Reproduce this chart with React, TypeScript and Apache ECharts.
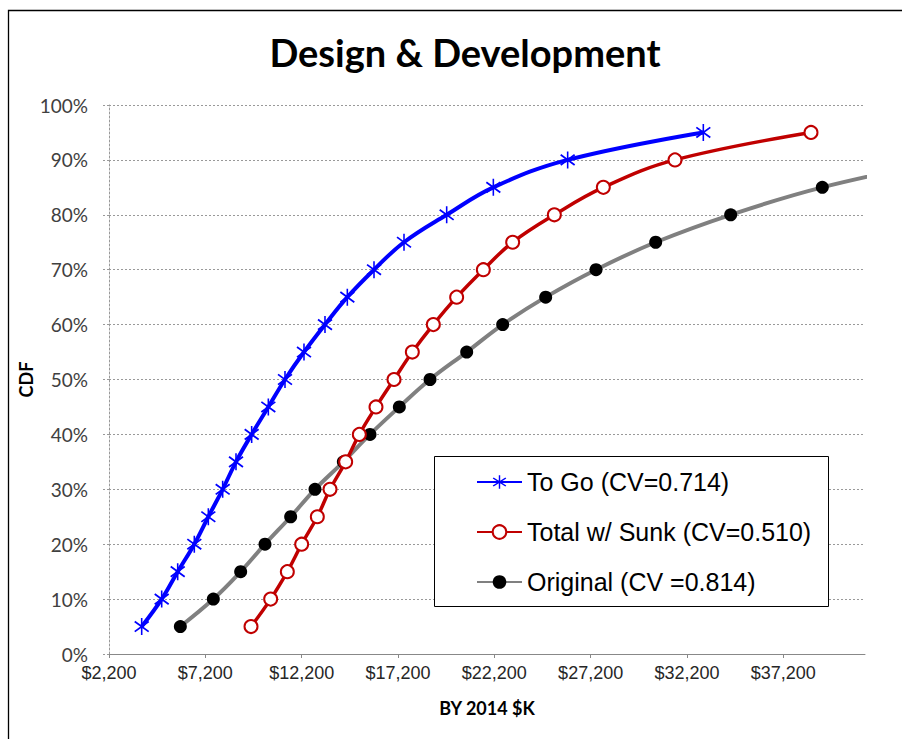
import React, { useEffect, useRef } from "react";
import * as echarts from "echarts";

const cdfLevels = [5, 10, 15, 20, 25, 30, 35, 40, 45, 50, 55, 60, 65, 70, 75, 80, 85, 90, 95];
const toGoCost = [3897, 4935, 5766, 6628, 7356, 8100, 8792, 9605, 10470, 11335, 12321, 13411, 14570, 15955, 17512, 19727, 22149, 26007, 33048];
const totalSunkCost = [9571, 10591, 11456, 12200, 13013, 13671, 14484, 15193, 16058, 16993, 17944, 19034, 20245, 21630, 23152, 25315, 27858, 31578, 38637];
const originalLevels = [5, 10, 15, 20, 25, 30, 35, 40, 45, 50, 55, 60, 65, 70, 75, 80, 85, 90];
const originalCost = [5903, 7615, 9034, 10297, 11629, 12892, 14363, 15747, 17270, 18862, 20766, 22634, 24865, 27478, 30575, 34468, 39224, 45800];
const xTicks = [2200, 7200, 12200, 17200, 22200, 27200, 32200, 37200];
const seriesNames = ["To Go (CV=0.714)", "Total w/ Sunk (CV=0.510)", "Original (CV =0.814)"];

const asterisk =
  "path://M9.1 0 L10.9 0 L10.9 20 L9.1 20 Z " +
  "M1.4 4.8 L2.6 3.2 L18.6 15.2 L17.4 16.8 Z " +
  "M2.6 16.8 L1.4 15.2 L17.4 3.2 L18.6 4.8 Z";

export default function App() {
  const ref = useRef<HTMLDivElement>(null);
  useEffect(() => {
    if (!ref.current) return;
    const chart = echarts.init(ref.current, null, { renderer: "svg" });
    const pairs = (xs: number[], ys: number[]) => xs.map((x, i) => [x, ys[i]]);
    chart.setOption({
      animation: false,
      backgroundColor: "#fff",
      title: {
        text: "Design & Development",
        left: 460,
        top: 28,
        textAlign: "center",
        textStyle: { fontFamily: "Lato", fontWeight: "bold", fontSize: 38, color: "#000" },
      },
      grid: { left: 109, right: 37, top: 105, bottom: 85 },
      xAxis: {
        type: "value",
        min: 2200,
        max: 41440,
        interval: 5000,
        name: "BY 2014 $K",
        nameLocation: "middle",
        nameGap: 45,
        nameTextStyle: { fontFamily: "Lato", fontWeight: "bold", fontSize: 18, color: "#000" },
        axisLine: { show: true, lineStyle: { color: "#888", width: 1 } },
        axisTick: { show: true, length: 4, customValues: xTicks, lineStyle: { color: "#888" } },
        axisLabel: {
          customValues: xTicks,
          margin: 10,
          fontFamily: "Liberation Sans",
          fontSize: 18,
          color: "#262626",
          formatter: (v: number) => "$" + v.toLocaleString("en-US"),
        },
        splitLine: { show: false },
      },
      yAxis: {
        type: "value",
        min: 0,
        max: 100,
        interval: 10,
        name: "CDF",
        nameLocation: "middle",
        nameGap: 83,
        nameMoveOverlap: false,
        nameRotate: 90,
        nameTextStyle: { fontFamily: "Lato", fontWeight: "bold", fontSize: 18, color: "#000", verticalAlign: "middle" },
        axisLine: { show: true, lineStyle: { color: "#999", type: [2, 2], width: 1 } },
        axisTick: { show: true, length: 7, lineStyle: { color: "#999", type: [2, 2] } },
        axisLabel: {
          margin: 21,
          fontFamily: "Lato",
          fontSize: 19,
          color: "#404040",
          formatter: "{value}%",
        },
        splitLine: { show: true, lineStyle: { color: "#999", type: [2, 2], width: 1 } },
      },
      legend: {
        orient: "vertical",
        left: 476,
        top: 469,
        padding: 0,
        itemWidth: 45,
        itemHeight: 17,
        itemGap: 24,
        z: 20,
        textStyle: { fontFamily: "Liberation Sans", fontSize: 25, lineHeight: 26, color: "#000" },
        data: seriesNames,
      },
      graphic: [
        {
          type: "polyline",
          z: 1,
          shape: { points: [[8.5, 739], [8.5, 10.5], [902, 10.5]] },
          style: { stroke: "#000", lineWidth: 1.3, fill: "none" },
        },
        {
          type: "rect",
          z: 10,
          shape: { x: 434.5, y: 456.5, width: 394, height: 150 },
          style: { stroke: "#000", lineWidth: 1, fill: "#fff" },
        },
      ],
      series: [
        {
          name: seriesNames[0],
          type: "line",
          smooth: 0.4,
          data: pairs(toGoCost, cdfLevels),
          symbol: asterisk,
          symbolSize: [15, 17],
          lineStyle: { color: "#0000FF", width: 4 },
          itemStyle: { color: "#0000FF" },
          z: 3,
        },
        {
          name: seriesNames[1],
          type: "line",
          smooth: 0.4,
          data: pairs(totalSunkCost, cdfLevels),
          symbol: "emptyCircle",
          symbolSize: 13,
          lineStyle: { color: "#C00000", width: 3.5 },
          itemStyle: { color: "#C00000", borderWidth: 2 },
          z: 3,
        },
        {
          name: seriesNames[2],
          type: "line",
          smooth: 0.4,
          clip: true,
          data: pairs(originalCost, originalLevels),
          symbol: "circle",
          symbolSize: 13,
          lineStyle: { color: "#808080", width: 4 },
          itemStyle: { color: "#000" },
          z: 2,
        },
      ],
    });
    return () => chart.dispose();
  }, []);
  return (
    <div
      ref={ref}
      style={{ position: "fixed", left: 0, top: 0, width: 902, height: 739 }}
    />
  );
}
